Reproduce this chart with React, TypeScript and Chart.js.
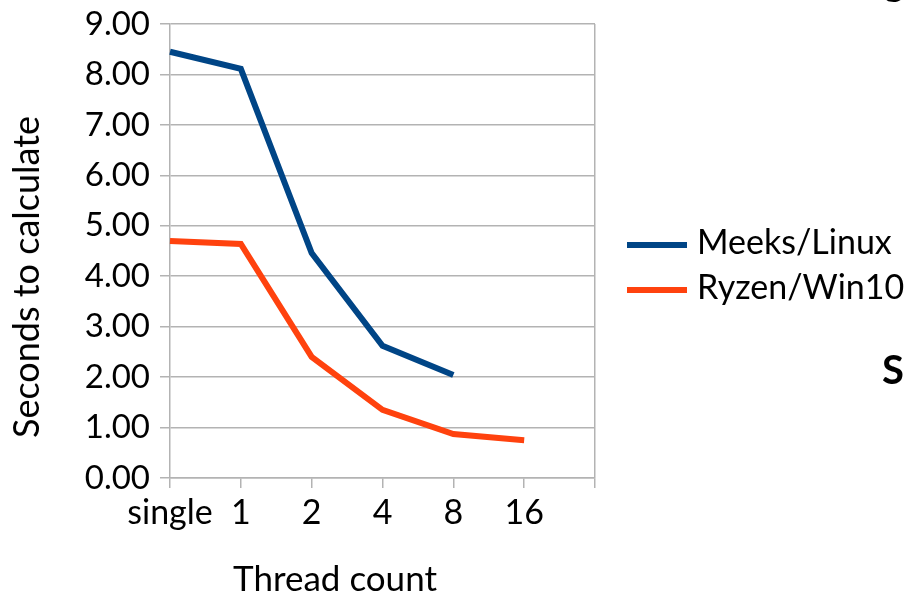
import React, { useEffect, useRef } from "react";
import { Chart, registerables } from "chart.js";

Chart.register(...registerables);

const categories = ["single", "1", "2", "4", "8", "16", ""];
const meeksLinux = [8.45, 8.11, 4.46, 2.62, 2.04, null, null];
const ryzenWin10 = [4.7, 4.64, 2.4, 1.35, 0.87, 0.75, null];
const seriesNames = ["Meeks/Linux", "Ryzen/Win10"];
const seriesColors = ["#004586", "#ff420e"];
const yMin = 0;
const yMax = 9;
const yStep = 1;
const xTitle = "Thread count";
const yTitle = "Seconds to calculate";

const FONT = "Lato, 'Open Sans', sans-serif";
const GRID = "#b3b3b3";

const legendPlugin = {
  id: "sideLegend",
  afterDraw(chart: any) {
    const { ctx, chartArea } = chart;
    const x0 = chartArea.right + 32;
    const y0 = chartArea.top + 221;
    const gap = 45;
    chart.data.datasets.forEach((ds: any, i: number) => {
      const y = y0 + i * gap;
      ctx.save();
      ctx.strokeStyle = ds.borderColor;
      ctx.lineWidth = 6;
      ctx.beginPath();
      ctx.moveTo(x0, y);
      ctx.lineTo(x0 + 60, y);
      ctx.stroke();
      ctx.fillStyle = "#000";
      ctx.font = `34px ${FONT}`;
      ctx.textBaseline = "middle";
      ctx.textAlign = "left";
      ctx.fillText(ds.label, x0 + 70, y - 2);
      ctx.restore();
    });
  },
};

export default function App() {
  const ref = useRef<HTMLCanvasElement | null>(null);

  useEffect(() => {
    if (!ref.current) return;
    const last = categories.length - 1;
    const chart = new Chart(ref.current, {
      type: "line",
      data: {
        labels: categories,
        datasets: [
          {
            label: seriesNames[0],
            data: meeksLinux,
            borderColor: seriesColors[0],
            backgroundColor: seriesColors[0],
            borderWidth: 6,
            pointRadius: 0,
            tension: 0,
            spanGaps: false,
          },
          {
            label: seriesNames[1],
            data: ryzenWin10,
            borderColor: seriesColors[1],
            backgroundColor: seriesColors[1],
            borderWidth: 6,
            pointRadius: 0,
            tension: 0,
            spanGaps: false,
          },
        ],
      },
      options: {
        responsive: false,
        animation: false,
        devicePixelRatio: 1,
        layout: { padding: { top: 24, right: 310, left: 0, bottom: 0 } },
        plugins: {
          legend: { display: false },
          tooltip: { enabled: false },
          title: { display: false },
        },
        scales: {
          x: {
            type: "category",
            offset: false,
            afterFit(scale: any) {
              scale.height = 116;
              scale.paddingLeft = 0;
              scale.paddingRight = 0;
            },
            grid: {
              display: true,
              drawOnChartArea: true,
              color: (c: any) => (c.index === last ? GRID : "rgba(0,0,0,0)"),
              tickColor: GRID,
              tickLength: 10,
              lineWidth: 1.5,
            },
            border: { display: true, color: GRID, width: 1.5 },
            ticks: {
              color: "#000",
              font: { family: FONT, size: 34 },
              padding: 5,
              autoSkip: false,
              maxRotation: 0,
            },
          },
          y: {
            min: yMin,
            max: yMax,
            afterFit(scale: any) {
              scale.width = 170;
              scale.paddingTop = 0;
              scale.paddingBottom = 0;
            },
            grid: {
              color: GRID,
              tickColor: GRID,
              tickLength: 10,
              lineWidth: 1.5,
            },
            border: { display: true, color: GRID, width: 1.5 },
            ticks: {
              stepSize: yStep,
              color: "#000",
              font: { family: FONT, size: 33 },
              padding: 10,
              callback: (v: any) => Number(v).toFixed(2),
            },
          },
        },
      },
      plugins: [legendPlugin],
    });
    return () => chart.destroy();
  }, []);

  return (
    <div
      style={{
        position: "fixed",
        left: 0,
        top: 0,
        width: 905,
        height: 594,
        overflow: "hidden",
        background: "#fff",
        fontFamily: FONT,
      }}
    >
      <canvas ref={ref} width={905} height={594} style={{ position: "absolute", left: 0, top: 0 }} />
      <div
        style={{
          position: "absolute",
          left: 335,
          top: 577,
          transform: "translate(-50%, -50%)",
          fontSize: 35,
          whiteSpace: "nowrap",
          color: "#000",
        }}
      >
        {xTitle}
      </div>
      <div
        style={{
          position: "absolute",
          left: 25,
          top: 277,
          transform: "translate(-50%, -50%) rotate(-90deg)",
          fontSize: 36,
          whiteSpace: "nowrap",
          color: "#000",
        }}
      >
        {yTitle}
      </div>
      <div
        style={{
          position: "absolute",
          left: 882,
          top: 345,
          fontSize: 40,
          fontWeight: 700,
          lineHeight: "48px",
          color: "#000",
        }}
      >
        S
      </div>
      <div
        style={{
          position: "absolute",
          left: 884,
          top: -38,
          fontSize: 38,
          fontWeight: 700,
          lineHeight: "38px",
          color: "#000",
        }}
      >
        g
      </div>
    </div>
  );
}
